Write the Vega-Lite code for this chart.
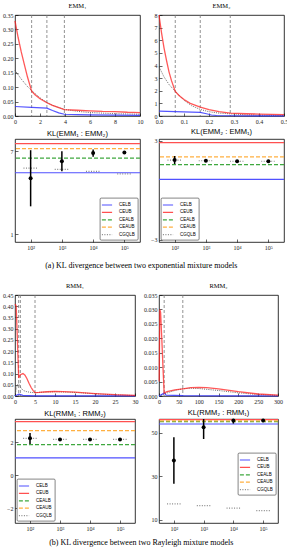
{
  "$schema": "https://vega.github.io/schema/vega-lite/v6.json",
  "padding": {"left": 2, "top": 2, "right": 0, "bottom": 0},
  "bounds": "flush",
  "columns": 2,
  "spacing": {"row": 23, "column": 19},
  "config": {
    "view": {"stroke": "black", "strokeWidth": 0.8},
    "axis": {"grid": false, "domain": false, "tickColor": "black", "tickSize": -3, "tickWidth": 0.6, "labelFontSize": 6, "labelFont": "Liberation Serif", "labelColor": "#222", "labelPadding": 5, "labelFlush": false, "labelOverlap": false, "labelSeparation": -100, "labelBound": false},
    "title": {"fontSize": 6.5, "font": "Liberation Serif", "fontWeight": "normal", "offset": 3, "color": "black"},
    "legend": {"offset": 2, "fillColor": "white", "strokeColor": "#333", "strokeWidth": 0.6, "padding": 3, "cornerRadius": 1, "labelFontSize": 4.5, "labelFont": "Liberation Sans", "symbolType": "M-1.7,0L1.7,0", "symbolSize": 36, "symbolStrokeWidth": 1.2, "rowPadding": 0.4, "labelOffset": 8, "labelLimit": 60}
  },
  "datasets": {
    "emm1": [
      {"s":"upper","x":0,"y":0.330},{"s":"upper","x":0.25,"y":0.272},{"s":"upper","x":0.5,"y":0.222},{"s":"upper","x":0.75,"y":0.178},{"s":"upper","x":1.0,"y":0.135},{"s":"upper","x":1.33,"y":0.086},{"s":"upper","x":1.6,"y":0.074},{"s":"upper","x":2.0,"y":0.060},{"s":"upper","x":2.55,"y":0.046},{"s":"upper","x":3.0,"y":0.037},{"s":"upper","x":3.5,"y":0.029},{"s":"upper","x":3.95,"y":0.022},{"s":"upper","x":5,"y":0.020},{"s":"upper","x":6,"y":0.018},{"s":"upper","x":7,"y":0.016},{"s":"upper","x":8,"y":0.015},{"s":"upper","x":9,"y":0.013},{"s":"upper","x":10,"y":0.012},
      {"s":"mix","x":0,"y":0.158},{"s":"mix","x":0.5,"y":0.128},{"s":"mix","x":1.0,"y":0.102},{"s":"mix","x":1.33,"y":0.088},{"s":"mix","x":2.0,"y":0.063},{"s":"mix","x":2.55,"y":0.047},{"s":"mix","x":3.0,"y":0.037},{"s":"mix","x":3.95,"y":0.023},{"s":"mix","x":5,"y":0.016},{"s":"mix","x":6,"y":0.012},{"s":"mix","x":7,"y":0.010},{"s":"mix","x":8,"y":0.008},{"s":"mix","x":9,"y":0.007},{"s":"mix","x":10,"y":0.006},
      {"s":"lower","x":0,"y":0.033},{"s":"lower","x":1.33,"y":0.030},{"s":"lower","x":2.55,"y":0.027},{"s":"lower","x":3.0,"y":0.019},{"s":"lower","x":3.5,"y":0.011},{"s":"lower","x":3.95,"y":0.006},{"s":"lower","x":5,"y":0.005},{"s":"lower","x":6,"y":0.004},{"s":"lower","x":8,"y":0.003},{"s":"lower","x":10,"y":0.002}
    ],
    "emm1v": [{"x":1.33},{"x":2.55},{"x":3.95}],
    "emm2": [
      {"s":"upper","x":0,"y":8.0},{"s":"upper","x":0.01,"y":6.6},{"s":"upper","x":0.02,"y":5.4},{"s":"upper","x":0.03,"y":4.4},{"s":"upper","x":0.04,"y":3.5},{"s":"upper","x":0.05,"y":2.8},{"s":"upper","x":0.065,"y":1.95},{"s":"upper","x":0.08,"y":1.62},{"s":"upper","x":0.1,"y":1.3},{"s":"upper","x":0.125,"y":1.0},{"s":"upper","x":0.165,"y":0.70},{"s":"upper","x":0.2,"y":0.50},{"s":"upper","x":0.24,"y":0.34},{"s":"upper","x":0.285,"y":0.22},{"s":"upper","x":0.35,"y":0.18},{"s":"upper","x":0.4,"y":0.15},{"s":"upper","x":0.45,"y":0.13},{"s":"upper","x":0.5,"y":0.11},
      {"s":"mix","x":0,"y":3.9},{"s":"mix","x":0.02,"y":3.1},{"s":"mix","x":0.04,"y":2.5},{"s":"mix","x":0.065,"y":1.95},{"s":"mix","x":0.1,"y":1.25},{"s":"mix","x":0.13,"y":0.82},{"s":"mix","x":0.165,"y":0.52},{"s":"mix","x":0.2,"y":0.34},{"s":"mix","x":0.24,"y":0.23},{"s":"mix","x":0.285,"y":0.17},{"s":"mix","x":0.35,"y":0.10},{"s":"mix","x":0.4,"y":0.07},{"s":"mix","x":0.5,"y":0.04},
      {"s":"lower","x":0,"y":0.38},{"s":"lower","x":0.065,"y":0.35},{"s":"lower","x":0.165,"y":0.29},{"s":"lower","x":0.19,"y":0.18},{"s":"lower","x":0.21,"y":0.08},{"s":"lower","x":0.23,"y":0.04},{"s":"lower","x":0.285,"y":0.02},{"s":"lower","x":0.5,"y":0.01}
    ],
    "emm2v": [{"x":0.065},{"x":0.165},{"x":0.285}],
    "rmm1": [
      {"s":"upper","x":0.05,"y":0.41},{"s":"upper","x":0.3,"y":0.40},{"s":"upper","x":0.6,"y":0.25},{"s":"upper","x":0.92,"y":0.08},{"s":"upper","x":1.34,"y":0.095},{"s":"upper","x":2,"y":0.100},{"s":"upper","x":2.5,"y":0.093},{"s":"upper","x":3,"y":0.077},{"s":"upper","x":3.5,"y":0.057},{"s":"upper","x":4,"y":0.039},{"s":"upper","x":4.5,"y":0.025},{"s":"upper","x":5,"y":0.015},{"s":"upper","x":6,"y":0.016},{"s":"upper","x":8,"y":0.019},{"s":"upper","x":10,"y":0.020},{"s":"upper","x":12,"y":0.0195},{"s":"upper","x":15,"y":0.017},{"s":"upper","x":20,"y":0.011},{"s":"upper","x":25,"y":0.006},{"s":"upper","x":30,"y":0.003},
      {"s":"mix","x":0,"y":0},{"s":"mix","x":0.3,"y":0.03},{"s":"mix","x":0.6,"y":0.05},{"s":"mix","x":0.92,"y":0.055},{"s":"mix","x":1.34,"y":0.04},{"s":"mix","x":2,"y":0.025},{"s":"mix","x":3,"y":0.019},{"s":"mix","x":4,"y":0.016},{"s":"mix","x":5,"y":0.015},{"s":"mix","x":8,"y":0.018},{"s":"mix","x":10,"y":0.019},{"s":"mix","x":15,"y":0.016},{"s":"mix","x":20,"y":0.010},{"s":"mix","x":25,"y":0.005},{"s":"mix","x":30,"y":0.002},
      {"s":"lower","x":0,"y":0},{"s":"lower","x":0.92,"y":0.008},{"s":"lower","x":1.34,"y":0.006},{"s":"lower","x":2,"y":0.003},{"s":"lower","x":5,"y":0.001},{"s":"lower","x":30,"y":0.0005}
    ],
    "rmm1v": [{"x":0.92},{"x":1.34},{"x":5.0}],
    "rmm2": [
      {"s":"upper","x":0.5,"y":0.005},{"s":"upper","x":2,"y":0.030},{"s":"upper","x":4,"y":0.029},{"s":"upper","x":7,"y":0.020},{"s":"upper","x":10,"y":0.010},{"s":"upper","x":13,"y":0.001},{"s":"upper","x":20,"y":0.0015},{"s":"upper","x":40,"y":0.0021},{"s":"upper","x":60,"y":0.0025},{"s":"upper","x":80,"y":0.0029},{"s":"upper","x":100,"y":0.0030},{"s":"upper","x":120,"y":0.0029},{"s":"upper","x":150,"y":0.0025},{"s":"upper","x":200,"y":0.0015},{"s":"upper","x":250,"y":0.0007},{"s":"upper","x":300,"y":0.0003},
      {"s":"mix","x":0,"y":0},{"s":"mix","x":13,"y":0.0007},{"s":"mix","x":30,"y":0.0015},{"s":"mix","x":45,"y":0.0021},{"s":"mix","x":60,"y":0.0025},{"s":"mix","x":80,"y":0.0027},{"s":"mix","x":100,"y":0.0026},{"s":"mix","x":150,"y":0.0019},{"s":"mix","x":200,"y":0.0011},{"s":"mix","x":250,"y":0.0005},{"s":"mix","x":300,"y":0.0002},
      {"s":"lower","x":0,"y":0},{"s":"lower","x":13,"y":0.0010},{"s":"lower","x":18,"y":0.0003},{"s":"lower","x":60,"y":0.0001},{"s":"lower","x":300,"y":0.0}
    ],
    "rmm2v": [{"x":13},{"x":60}],
    "kl1h": [{"b":"CELB","v":5.46},{"b":"CEUB","v":7.57},{"b":"CEALB","v":6.52},{"b":"CEAUB","v":7.21}],
    "kl1g": [{"b":"CGQLB","lo":59,"hi":170,"v":5.79},{"b":"CGQLB","lo":590,"hi":1700,"v":5.70},{"b":"CGQLB","lo":5900,"hi":17000,"v":5.56},{"b":"CGQLB","lo":59000,"hi":170000,"v":5.38}],
    "kl1p": [{"n":100,"kl":5.06,"lo":3.03,"hi":7.09},{"n":1000,"kl":6.29,"lo":5.57,"hi":7.01},{"n":10000,"kl":6.88,"lo":6.62,"hi":7.14},{"n":100000,"kl":6.93,"lo":6.88,"hi":6.98}],
    "kl2h": [{"b":"CELB","v":0.65},{"b":"CEUB","v":2.88},{"b":"CEALB","v":1.55},{"b":"CEAUB","v":2.02}],
    "kl2g": [{"b":"CGQLB","lo":59,"hi":170,"v":1.82},{"b":"CGQLB","lo":590,"hi":1700,"v":1.78},{"b":"CGQLB","lo":5900,"hi":17000,"v":1.75},{"b":"CGQLB","lo":59000,"hi":170000,"v":1.75}],
    "kl2p": [{"n":100,"kl":1.82,"lo":1.58,"hi":2.07},{"n":1000,"kl":1.78,"lo":1.72,"hi":1.84},{"n":10000,"kl":1.75,"lo":1.71,"hi":1.79},{"n":100000,"kl":1.75,"lo":1.73,"hi":1.77}],
    "kl3h": [{"b":"CELB","v":1.04},{"b":"CEUB","v":3.24},{"b":"CEALB","v":1.85},{"b":"CEAUB","v":2.7}],
    "kl3g": [{"b":"CGQLB","lo":59,"hi":170,"v":2.23},{"b":"CGQLB","lo":590,"hi":1700,"v":2.16},{"b":"CGQLB","lo":5900,"hi":17000,"v":2.16},{"b":"CGQLB","lo":59000,"hi":170000,"v":2.16}],
    "kl3p": [{"n":100,"kl":2.23,"lo":1.88,"hi":2.55},{"n":1000,"kl":2.16,"lo":2.11,"hi":2.21},{"n":10000,"kl":2.16,"lo":2.13,"hi":2.19},{"n":100000,"kl":2.16,"lo":2.14,"hi":2.18}],
    "kl4h": [{"b":"CELB","v":54.1},{"b":"CEUB","v":56.1},{"b":"CEALB","v":55.2},{"b":"CEAUB","v":55.5}],
    "kl4g": [{"b":"CGQLB","lo":59,"hi":170,"v":17.4},{"b":"CGQLB","lo":590,"hi":1700,"v":16.6},{"b":"CGQLB","lo":5900,"hi":17000,"v":15.4},{"b":"CGQLB","lo":59000,"hi":170000,"v":14.3}],
    "kl4p": [{"n":100,"kl":37.3,"lo":26.6,"hi":48.0},{"n":1000,"kl":52.6,"lo":47.2,"hi":58.0},{"n":10000,"kl":55.7,"lo":54.3,"hi":57.1},{"n":100000,"kl":55.7,"lo":55.1,"hi":56.3}]
  },
  "resolve": {"scale": {"color": "independent", "strokeDash": "independent"}, "legend": {"color": "independent", "strokeDash": "independent"}},
  "concat": [
    {
      "width": 125, "height": 101,
      "title": "EMM₁",
      "data": {"name": "emm1"},
      "encoding": {
        "x": {"field": "x", "type": "quantitative", "title": null, "scale": {"domain": [0, 10], "nice": false, "zero": false}, "axis": {"values": [0, 2, 4, 6, 8, 10], "labelOverlap": false}},
        "y": {"field": "y", "type": "quantitative", "title": null, "scale": {"domain": [0, 0.35], "nice": false}, "axis": {"values": [0, 0.05, 0.1, 0.15, 0.2, 0.25, 0.3, 0.35], "format": ".2f", "labelOverlap": false}}
      },
      "layer": [
        {"data": {"name": "emm1v"}, "mark": {"type": "rule", "color": "#777", "strokeDash": [3, 2], "strokeWidth": 0.8}, "encoding": {"y": null}},
        {"transform": [{"filter": "datum.s === 'mix'"}], "mark": {"type": "line", "color": "#444", "strokeDash": [1, 1.2], "strokeWidth": 0.8}},
        {"transform": [{"filter": "datum.s === 'lower'"}], "mark": {"type": "line", "color": "#2a2aff", "strokeWidth": 1.2, "opacity": 0.8}},
        {"transform": [{"filter": "datum.s === 'upper'"}], "mark": {"type": "line", "color": "#ff2020", "strokeWidth": 1.3, "opacity": 0.75}}
      ]
    },
    {
      "width": 125, "height": 101,
      "title": "EMM₂",
      "data": {"name": "emm2"},
      "encoding": {
        "x": {"field": "x", "type": "quantitative", "title": null, "scale": {"domain": [0, 0.5], "nice": false, "zero": false}, "axis": {"values": [0, 0.1, 0.2, 0.3, 0.4, 0.5], "format": ".1f", "labelOverlap": false}},
        "y": {"field": "y", "type": "quantitative", "title": null, "scale": {"domain": [0, 8], "nice": false}, "axis": {"values": [0, 1, 2, 3, 4, 5, 6, 7, 8], "format": "d", "labelOverlap": false}}
      },
      "layer": [
        {"data": {"name": "emm2v"}, "mark": {"type": "rule", "color": "#777", "strokeDash": [3, 2], "strokeWidth": 0.8}, "encoding": {"y": null}},
        {"transform": [{"filter": "datum.s === 'mix'"}], "mark": {"type": "line", "color": "#444", "strokeDash": [1, 1.2], "strokeWidth": 0.8}},
        {"transform": [{"filter": "datum.s === 'lower'"}], "mark": {"type": "line", "color": "#2a2aff", "strokeWidth": 1.2, "opacity": 0.8}},
        {"transform": [{"filter": "datum.s === 'upper'"}], "mark": {"type": "line", "color": "#ff2020", "strokeWidth": 1.3, "opacity": 0.75}}
      ]
    },
    {
      "width": 125, "height": 103,
      "title": {"text": "KL(EMM₁ : EMM₂)", "font": "Liberation Sans", "fontSize": 7.5, "offset": 2},
      "layer": [
        {"data": {"name": "kl1h"}, "mark": {"type": "rule", "strokeWidth": 1.2},
         "encoding": {"y": {"field": "v", "type": "quantitative", "title": null, "scale": {"domain": [0.45, 7.9], "nice": false, "zero": false}, "axis": {"values": [1, 2, 3, 4, 5, 6, 7], "labelOverlap": false}},
                      "color": {"field": "b", "type": "nominal", "title": null, "scale": {"domain": ["CELB", "CEUB", "CEALB", "CEAUB", "CGQLB"], "range": ["#5050ff", "#ff5050", "#3fa83f", "#ffb040", "#888888"]}, "legend": {"orient": "bottom-right"}},
                      "strokeDash": {"field": "b", "type": "nominal", "title": null, "scale": {"domain": ["CELB", "CEUB", "CEALB", "CEAUB", "CGQLB"], "range": [[1, 0], [1, 0], [4, 2], [4, 2], [1, 1.5]]}, "legend": {"orient": "bottom-right"}}}},
        {"data": {"name": "kl1g"}, "mark": {"type": "rule", "strokeWidth": 1.2},
         "encoding": {"x": {"field": "lo", "type": "quantitative", "title": null, "scale": {"type": "log", "domain": [31.6, 316228], "nice": false}, "axis": {"values": [100, 1000, 10000, 100000], "labelOverlap": false, "labelExpr": "'10' + ['⁰','¹','²','³','⁴','⁵','⁶'][round(log(datum.value)/LN10)]"}},
                      "x2": {"field": "hi"},
                      "y": {"field": "v", "type": "quantitative", "axis": {"labelOverlap": false}},
                      "color": {"field": "b", "type": "nominal", "title": null},
                      "strokeDash": {"field": "b", "type": "nominal", "title": null}}},
        {"data": {"name": "kl1p"}, "mark": {"type": "rule", "color": "black", "strokeWidth": 1.5},
         "encoding": {"x": {"field": "n", "type": "quantitative", "axis": {"labelOverlap": false}}, "y": {"field": "lo", "type": "quantitative", "axis": {"labelOverlap": false}}, "y2": {"field": "hi"}}},
        {"data": {"name": "kl1p"}, "mark": {"type": "circle", "color": "black", "size": 16, "opacity": 1},
         "encoding": {"x": {"field": "n", "type": "quantitative", "axis": {"labelOverlap": false}}, "y": {"field": "kl", "type": "quantitative", "axis": {"labelOverlap": false}}}}
      ]
    },
    {
      "width": 125, "height": 103,
      "title": {"text": "KL(EMM₂ : EMM₁)", "font": "Liberation Sans", "fontSize": 7.5, "offset": 2},
      "layer": [
        {"data": {"name": "kl2h"}, "mark": {"type": "rule", "strokeWidth": 1.2},
         "encoding": {"y": {"field": "v", "type": "quantitative", "title": null, "scale": {"domain": [-3.15, 3.1], "nice": false, "zero": false}, "axis": {"values": [-3, -2, -1, 0, 1, 2, 3], "labelOverlap": false}},
                      "color": {"field": "b", "type": "nominal", "title": null, "scale": {"domain": ["CELB", "CEUB", "CEALB", "CEAUB", "CGQLB"], "range": ["#5050ff", "#ff5050", "#3fa83f", "#ffb040", "#888888"]}, "legend": {"orient": "bottom-left"}},
                      "strokeDash": {"field": "b", "type": "nominal", "title": null, "scale": {"domain": ["CELB", "CEUB", "CEALB", "CEAUB", "CGQLB"], "range": [[1, 0], [1, 0], [4, 2], [4, 2], [1, 1.5]]}, "legend": {"orient": "bottom-left"}}}},
        {"data": {"name": "kl2g"}, "mark": {"type": "rule", "strokeWidth": 1.2},
         "encoding": {"x": {"field": "lo", "type": "quantitative", "title": null, "scale": {"type": "log", "domain": [31.6, 316228], "nice": false}, "axis": {"values": [100, 1000, 10000, 100000], "labelOverlap": false, "labelExpr": "'10' + ['⁰','¹','²','³','⁴','⁵','⁶'][round(log(datum.value)/LN10)]"}},
                      "x2": {"field": "hi"},
                      "y": {"field": "v", "type": "quantitative", "axis": {"labelOverlap": false}},
                      "color": {"field": "b", "type": "nominal", "title": null},
                      "strokeDash": {"field": "b", "type": "nominal", "title": null}}},
        {"data": {"name": "kl2p"}, "mark": {"type": "rule", "color": "black", "strokeWidth": 1.5},
         "encoding": {"x": {"field": "n", "type": "quantitative", "axis": {"labelOverlap": false}}, "y": {"field": "lo", "type": "quantitative", "axis": {"labelOverlap": false}}, "y2": {"field": "hi"}}},
        {"data": {"name": "kl2p"}, "mark": {"type": "circle", "color": "black", "size": 16, "opacity": 1},
         "encoding": {"x": {"field": "n", "type": "quantitative", "axis": {"labelOverlap": false}}, "y": {"field": "kl", "type": "quantitative", "axis": {"labelOverlap": false}}}}
      ]
    },
    {
      "width": 125, "height": 7,
      "view": {"stroke": null},
      "data": {"values": [{"t": "(a) KL divergence between two exponential mixture models"}]},
      "mark": {"type": "text", "baseline": "middle", "align": "center", "fontSize": 8, "font": "Liberation Serif", "color": "black"},
      "encoding": {
        "text": {"field": "t", "type": "nominal"},
        "x": {"datum": 1.01, "type": "quantitative", "scale": {"domain": [0, 1]}, "axis": null},
        "y": {"datum": 0.86, "type": "quantitative", "scale": {"domain": [0, 1]}, "axis": null}
      }
    },
    {
      "width": 125, "height": 7,
      "view": {"stroke": null},
      "data": {"values": [{"t": ""}]},
      "mark": {"type": "text"},
      "encoding": {"text": {"field": "t", "type": "nominal"}}
    },
    {
      "width": 120, "height": 101,
      "title": "RMM₁",
      "data": {"name": "rmm1"},
      "encoding": {
        "x": {"field": "x", "type": "quantitative", "title": null, "scale": {"domain": [0, 30], "nice": false, "zero": false}, "axis": {"values": [0, 5, 10, 15, 20, 25, 30], "labelOverlap": false}},
        "y": {"field": "y", "type": "quantitative", "title": null, "scale": {"domain": [0, 0.45], "nice": false}, "axis": {"values": [0, 0.05, 0.1, 0.15, 0.2, 0.25, 0.3, 0.35, 0.4, 0.45], "format": ".2f", "labelOverlap": false}}
      },
      "layer": [
        {"data": {"name": "rmm1v"}, "mark": {"type": "rule", "color": "#777", "strokeDash": [3, 2], "strokeWidth": 0.8}, "encoding": {"y": null}},
        {"transform": [{"filter": "datum.s === 'mix'"}], "mark": {"type": "line", "color": "#444", "strokeDash": [1, 1.2], "strokeWidth": 0.8}},
        {"transform": [{"filter": "datum.s === 'lower'"}], "mark": {"type": "line", "color": "#2a2aff", "strokeWidth": 1.2, "opacity": 0.8}},
        {"transform": [{"filter": "datum.s === 'upper'"}], "mark": {"type": "line", "color": "#ff2020", "strokeWidth": 1.3, "opacity": 0.75}}
      ]
    },
    {
      "width": 119, "height": 101,
      "title": "RMM₂",
      "data": {"name": "rmm2"},
      "encoding": {
        "x": {"field": "x", "type": "quantitative", "title": null, "scale": {"domain": [0, 300], "nice": false, "zero": false}, "axis": {"values": [0, 50, 100, 150, 200, 250, 300], "labelOverlap": false}},
        "y": {"field": "y", "type": "quantitative", "title": null, "scale": {"domain": [0, 0.035], "nice": false}, "axis": {"values": [0, 0.005, 0.01, 0.015, 0.02, 0.025, 0.03, 0.035], "format": ".3f", "labelOverlap": false}}
      },
      "layer": [
        {"data": {"name": "rmm2v"}, "mark": {"type": "rule", "color": "#777", "strokeDash": [3, 2], "strokeWidth": 0.8}, "encoding": {"y": null}},
        {"transform": [{"filter": "datum.s === 'mix'"}], "mark": {"type": "line", "color": "#444", "strokeDash": [1, 1.2], "strokeWidth": 0.8}},
        {"transform": [{"filter": "datum.s === 'lower'"}], "mark": {"type": "line", "color": "#2a2aff", "strokeWidth": 1.2, "opacity": 0.8}},
        {"transform": [{"filter": "datum.s === 'upper'"}], "mark": {"type": "line", "color": "#ff2020", "strokeWidth": 1.3, "opacity": 0.75}}
      ]
    },
    {
      "width": 120, "height": 104,
      "title": {"text": "KL(RMM₁ : RMM₂)", "font": "Liberation Sans", "fontSize": 7.5, "offset": 2},
      "layer": [
        {"data": {"name": "kl3h"}, "mark": {"type": "rule", "strokeWidth": 1.2},
         "encoding": {"y": {"field": "v", "type": "quantitative", "title": null, "scale": {"domain": [-2.9, 3.4], "nice": false, "zero": false}, "axis": {"values": [-2, -1, 0, 1, 2, 3], "labelOverlap": false}},
                      "color": {"field": "b", "type": "nominal", "title": null, "scale": {"domain": ["CELB", "CEUB", "CEALB", "CEAUB", "CGQLB"], "range": ["#5050ff", "#ff5050", "#3fa83f", "#ffb040", "#888888"]}, "legend": {"orient": "bottom-left"}},
                      "strokeDash": {"field": "b", "type": "nominal", "title": null, "scale": {"domain": ["CELB", "CEUB", "CEALB", "CEAUB", "CGQLB"], "range": [[1, 0], [1, 0], [4, 2], [4, 2], [1, 1.5]]}, "legend": {"orient": "bottom-left"}}}},
        {"data": {"name": "kl3g"}, "mark": {"type": "rule", "strokeWidth": 1.2},
         "encoding": {"x": {"field": "lo", "type": "quantitative", "title": null, "scale": {"type": "log", "domain": [31.6, 316228], "nice": false}, "axis": {"values": [100, 1000, 10000, 100000], "labelOverlap": false, "labelExpr": "'10' + ['⁰','¹','²','³','⁴','⁵','⁶'][round(log(datum.value)/LN10)]"}},
                      "x2": {"field": "hi"},
                      "y": {"field": "v", "type": "quantitative", "axis": {"labelOverlap": false}},
                      "color": {"field": "b", "type": "nominal", "title": null},
                      "strokeDash": {"field": "b", "type": "nominal", "title": null}}},
        {"data": {"name": "kl3p"}, "mark": {"type": "rule", "color": "black", "strokeWidth": 1.5},
         "encoding": {"x": {"field": "n", "type": "quantitative", "axis": {"labelOverlap": false}}, "y": {"field": "lo", "type": "quantitative", "axis": {"labelOverlap": false}}, "y2": {"field": "hi"}}},
        {"data": {"name": "kl3p"}, "mark": {"type": "circle", "color": "black", "size": 16, "opacity": 1},
         "encoding": {"x": {"field": "n", "type": "quantitative", "axis": {"labelOverlap": false}}, "y": {"field": "kl", "type": "quantitative", "axis": {"labelOverlap": false}}}}
      ]
    },
    {
      "width": 119, "height": 104,
      "title": {"text": "KL(RMM₂ : RMM₁)", "font": "Liberation Sans", "fontSize": 7.5, "offset": 2},
      "layer": [
        {"data": {"name": "kl4h"}, "mark": {"type": "rule", "strokeWidth": 1.2},
         "encoding": {"y": {"field": "v", "type": "quantitative", "title": null, "scale": {"domain": [8.6, 56.4], "nice": false, "zero": false}, "axis": {"values": [10, 20, 30, 40, 50], "labelOverlap": false}},
                      "color": {"field": "b", "type": "nominal", "title": null, "scale": {"domain": ["CELB", "CEUB", "CEALB", "CEAUB", "CGQLB"], "range": ["#5050ff", "#ff5050", "#3fa83f", "#ffb040", "#888888"]}, "legend": {"orient": "none", "legendX": 79, "legendY": 34}},
                      "strokeDash": {"field": "b", "type": "nominal", "title": null, "scale": {"domain": ["CELB", "CEUB", "CEALB", "CEAUB", "CGQLB"], "range": [[1, 0], [1, 0], [4, 2], [4, 2], [1, 1.5]]}, "legend": {"orient": "none", "legendX": 79, "legendY": 34}}}},
        {"data": {"name": "kl4g"}, "mark": {"type": "rule", "strokeWidth": 1.2},
         "encoding": {"x": {"field": "lo", "type": "quantitative", "title": null, "scale": {"type": "log", "domain": [31.6, 316228], "nice": false}, "axis": {"values": [100, 1000, 10000, 100000], "labelOverlap": false, "labelExpr": "'10' + ['⁰','¹','²','³','⁴','⁵','⁶'][round(log(datum.value)/LN10)]"}},
                      "x2": {"field": "hi"},
                      "y": {"field": "v", "type": "quantitative", "axis": {"labelOverlap": false}},
                      "color": {"field": "b", "type": "nominal", "title": null},
                      "strokeDash": {"field": "b", "type": "nominal", "title": null}}},
        {"data": {"name": "kl4p"}, "mark": {"type": "rule", "color": "black", "strokeWidth": 1.5, "clip": true},
         "encoding": {"x": {"field": "n", "type": "quantitative", "axis": {"labelOverlap": false}}, "y": {"field": "lo", "type": "quantitative", "axis": {"labelOverlap": false}}, "y2": {"field": "hi"}}},
        {"data": {"name": "kl4p"}, "mark": {"type": "circle", "color": "black", "size": 16, "opacity": 1},
         "encoding": {"x": {"field": "n", "type": "quantitative", "axis": {"labelOverlap": false}}, "y": {"field": "kl", "type": "quantitative", "axis": {"labelOverlap": false}}}}
      ]
    },
    {
      "width": 125, "height": 7,
      "view": {"stroke": null},
      "data": {"values": [{"t": "(b) KL divergence between two Rayleigh mixture models"}]},
      "mark": {"type": "text", "baseline": "middle", "align": "center", "fontSize": 8, "font": "Liberation Serif", "color": "black"},
      "encoding": {
        "text": {"field": "t", "type": "nominal"},
        "x": {"datum": 1.01, "type": "quantitative", "scale": {"domain": [0, 1]}, "axis": null},
        "y": {"datum": 1.43, "type": "quantitative", "scale": {"domain": [0, 1]}, "axis": null}
      }
    }
  ]
}
